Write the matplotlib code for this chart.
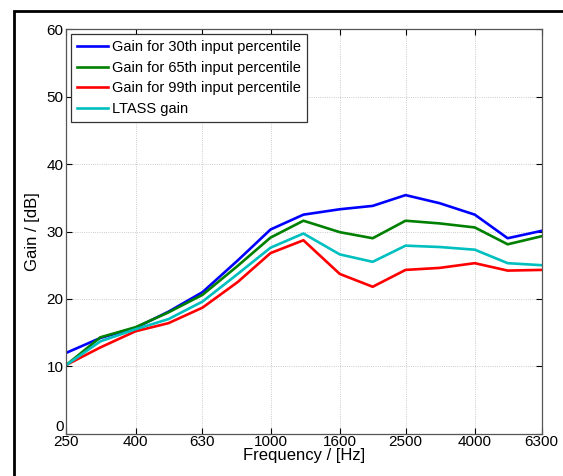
import matplotlib
matplotlib.use("Agg")
import matplotlib.pyplot as plt
from matplotlib.patches import Rectangle
from matplotlib.ticker import FixedLocator, FixedFormatter, NullLocator

plt.rcParams['font.family'] = ['Liberation Sans', 'DejaVu Sans']

# third-octave centre frequencies [Hz]
freqs = [250, 315, 400, 500, 630, 800, 1000, 1250, 1600, 2000, 2500, 3150, 4000, 5000, 6300]
tick_freqs = [250, 400, 630, 1000, 1600, 2500, 4000, 6300]

# gains [dB]
gain_30 = [12.0, 14.2, 15.7, 18.1, 21.0, 25.7, 30.3, 32.5, 33.3, 33.8, 35.4, 34.2, 32.5, 29.0, 30.1]
gain_65 = [10.2, 14.3, 15.8, 18.0, 20.6, 24.9, 29.1, 31.6, 29.9, 29.0, 31.6, 31.2, 30.6, 28.1, 29.3]
gain_99 = [10.2, 12.8, 15.2, 16.4, 18.7, 22.5, 26.8, 28.7, 23.7, 21.8, 24.3, 24.6, 25.3, 24.2, 24.3]
gain_ltass = [10.2, 13.7, 15.5, 17.0, 19.6, 23.7, 27.6, 29.7, 26.6, 25.5, 27.9, 27.7, 27.3, 25.3, 25.0]

fig = plt.figure(figsize=(5.63, 4.76), dpi=100)
ax = fig.add_axes([0.1178, 0.0889, 0.8444, 0.8495])

lw = 1.9
ax.plot(freqs, gain_30, color=(0, 0, 1), lw=lw, label="Gain for 30th input percentile")
ax.plot(freqs, gain_65, color=(0, 0.5, 0), lw=lw, label="Gain for 65th input percentile")
ax.plot(freqs, gain_99, color=(1, 0, 0), lw=lw, label="Gain for 99th input percentile")
ax.plot(freqs, gain_ltass, color=(0, 0.75, 0.75), lw=lw, label="LTASS gain")

ax.set_xscale("log")
ax.set_xlim(250, 6300)
ax.set_ylim(0, 60)
ax.xaxis.set_major_locator(FixedLocator(tick_freqs))
ax.xaxis.set_major_formatter(FixedFormatter([str(f) for f in tick_freqs]))
ax.xaxis.set_minor_locator(NullLocator())
ax.set_yticks(range(0, 61, 10))

ax.tick_params(direction="in", top=True, right=True, length=4, width=0.8,
               labelsize=11, colors="black")
ax.tick_params(axis="x", pad=1)
ax.tick_params(axis="y", pad=2)
for s in ax.spines.values():
    s.set_color("#555555")
    s.set_linewidth(0.9)

# MATLAB puts the "0" just above the corner, clear of "250"
fig.canvas.draw()
ax.get_yticklabels()[0].set_verticalalignment("bottom")

ax.grid(True, linestyle=":", color="#bbbbbb", linewidth=0.6)

ax.set_xlabel("Frequency / [Hz]", fontsize=12, labelpad=-1)
ax.set_ylabel("Gain / [dB]", fontsize=12, labelpad=5)

leg = ax.legend(loc="upper left", fontsize=10.5, frameon=True, fancybox=False,
                edgecolor="#333333", framealpha=1, handlelength=2.1,
                handletextpad=0.3, labelspacing=0.45, borderaxespad=0.35,
                borderpad=0.4)
leg.get_frame().set_linewidth(0.9)

# black frame around the whole figure (cut off at right and bottom)
fig.patches.append(Rectangle((14 / 563, -0.05), 1.0, 1 - 11 / 476 + 0.05,
                             transform=fig.transFigure, fill=False,
                             edgecolor="black", linewidth=2, clip_on=False))

plt.savefig("out.png", dpi=100)
